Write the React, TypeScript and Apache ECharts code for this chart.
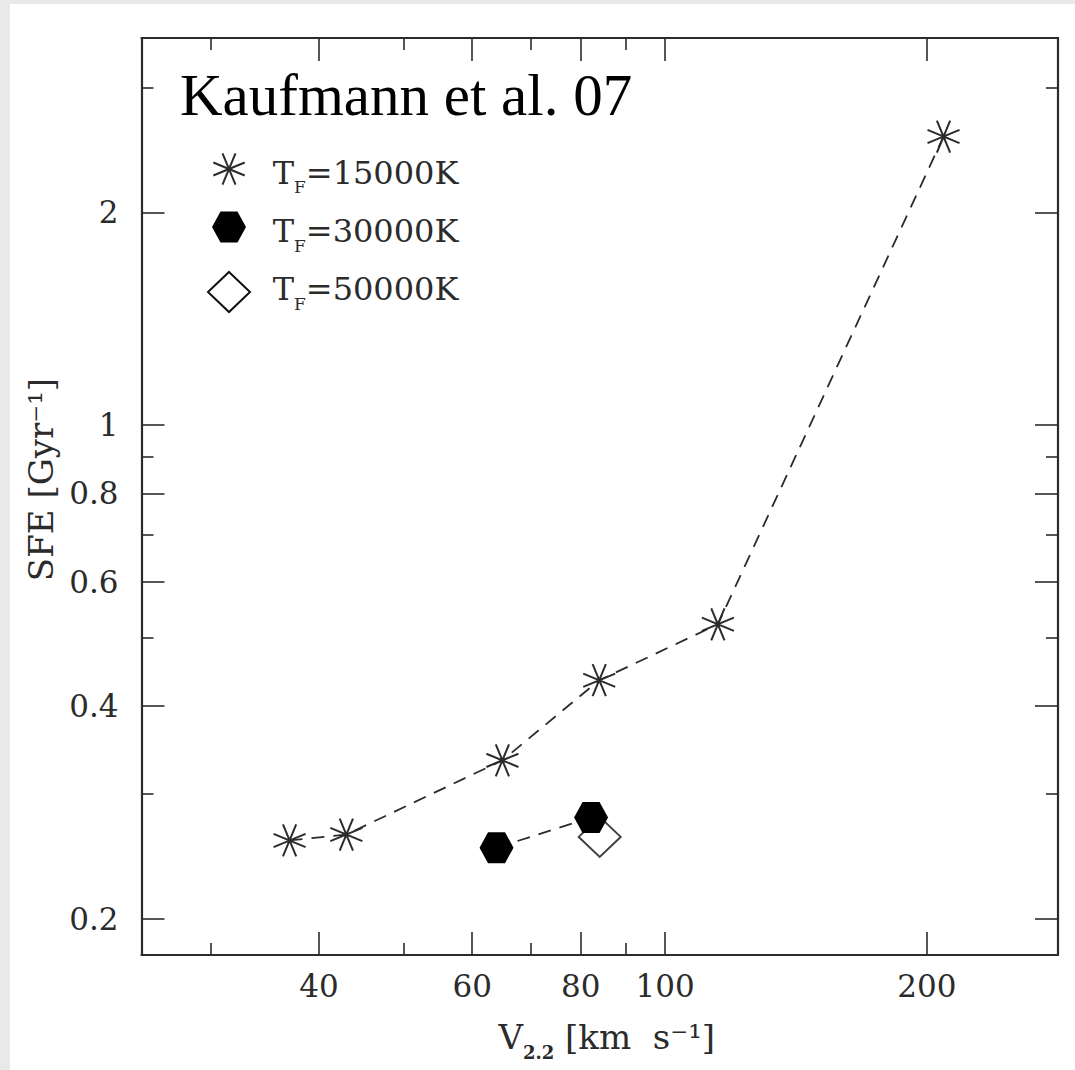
import React, { useEffect, useRef } from 'react';
import * as echarts from 'echarts';

// ---------- data ----------
const xMajorTicks = [40, 60, 80, 100, 200];
const xMajorLabels = ['40', '60', '80', '100', '200'];
const xMinorTicks = [30, 50, 70, 90];
const yMajorTicks = [0.2, 0.4, 0.6, 0.8, 1, 2];
const yMajorLabels = ['0.2', '0.4', '0.6', '0.8', '1', '2'];
const yMinorTicks = [0.3, 0.5, 0.7, 0.9, 3];
const xRange = [25, 283];
const yRange = [0.1776, 3.53];

const v15000 = [37, 43, 65, 84, 115, 209];
const sfe15000 = [0.258, 0.263, 0.335, 0.435, 0.522, 2.56];
const v30000 = [64, 82.2];
const sfe30000 = [0.252, 0.278];
const v50000 = [84.1];
const sfe50000 = [0.261];

const legendTemps = ['15000', '30000', '50000'];
const titleText = 'Kaufmann et al. 07';

// ---------- styling ----------
const L = (v: number) => Math.log10(v);
const ink = '#2b2b2b';
const serif = 'DejaVu Serif';
const FS = 31;

const starPath =
  'path://M0.924,0.383L-0.924,-0.383M0.383,0.924L-0.383,-0.924M-0.383,0.924L0.383,-0.924M-0.924,0.383L0.924,-0.383';
const hexPath = 'path://M-1,0L-0.5,-0.866L0.5,-0.866L1,0L0.5,0.866L-0.5,0.866Z';

const fmt = (ticks: number[], labels: string[]) => (v: number) => {
  const i = ticks.findIndex((t) => Math.abs(L(t) - v) < 1e-6);
  return i >= 0 ? labels[i] : '';
};

const lineStyleAxis = { color: ink, width: 2.2 };
const tickLine = { color: ink, width: 1.6 };

function axisSet(sides: string[], range: number[], major: number[], minor: number[], labelCfg: any, nameCfg: any) {
  const base = { type: 'value', min: L(range[0]), max: L(range[1]), splitLine: { show: false }, scale: true };
  const out: any[] = [];
  sides.forEach((side, si) => {
    out.push({
      ...base,
      position: side,
      axisLine: { show: true, onZero: false, lineStyle: lineStyleAxis },
      axisTick: { show: true, inside: true, length: 23, customValues: major.map(L), lineStyle: tickLine },
      axisLabel: si === 0 ? labelCfg : { show: false },
      ...(si === 0 ? nameCfg : {}),
    });
    out.push({
      ...base,
      position: side,
      axisLine: { show: false, onZero: false },
      axisTick: { show: true, inside: true, length: 12, customValues: minor.map(L), lineStyle: tickLine },
      axisLabel: { show: false },
    });
  });
  return out;
}

const xAxes = axisSet(
  ['bottom', 'top'],
  xRange,
  xMajorTicks,
  xMinorTicks,
  {
    show: true,
    customValues: xMajorTicks.map(L),
    formatter: fmt(xMajorTicks, xMajorLabels),
    margin: 16,
    fontFamily: serif,
    fontSize: FS,
    lineHeight: 30,
    color: ink,
  },
  {
    name: '{t|V}{s|2.2}{t| [km  s⁻¹]}',
    nameLocation: 'middle',
    nameGap: 58,
    nameTextStyle: {
      padding: [0, 0, 0, 14],
      rich: {
        t: { fontFamily: serif, fontSize: 34, lineHeight: 48, color: ink },
        s: { fontFamily: serif, fontSize: 18, lineHeight: 18, fontWeight: 'bold', verticalAlign: 'bottom', color: ink },
      },
    },
  }
);

const yAxes = axisSet(
  ['left', 'right'],
  yRange,
  yMajorTicks,
  yMinorTicks,
  {
    show: true,
    customValues: yMajorTicks.map(L),
    formatter: fmt(yMajorTicks, yMajorLabels),
    margin: 23,
    fontFamily: serif,
    fontSize: FS,
    color: ink,
  },
  {
    name: 'SFE [Gyr⁻¹]',
    nameLocation: 'middle',
    nameGap: 78,
    nameTextStyle: { fontFamily: serif, fontSize: 34, lineHeight: 32, color: ink, padding: [0, 0, 0, 34] },
  }
);

const legendRows = [{ y: 168.5 }, { y: 227 }, { y: 285 }];

const starAngles = [22.5, 67.5, 112.5, 157.5];

const legendGraphics: any[] = [
  {
    type: 'group',
    x: 219,
    y: 165,
    children: starAngles.map((a) => {
      const r = (a * Math.PI) / 180;
      const dx = 17 * Math.cos(r);
      const dy = 17 * Math.sin(r);
      return { type: 'line', shape: { x1: -dx, y1: -dy, x2: dx, y2: dy }, style: { stroke: ink, lineWidth: 2 } };
    }),
  },
  {
    type: 'polygon',
    x: 219,
    y: 223,
    shape: { points: [[-17, 0], [-8.5, -15.5], [8.5, -15.5], [17, 0], [8.5, 15.5], [-8.5, 15.5]] },
    style: { fill: '#000' },
  },
  {
    type: 'polygon',
    x: 219,
    y: 288,
    shape: { points: [[0, -20], [21, 0], [0, 20], [-21, 0]] },
    style: { fill: '#fff', stroke: '#111', lineWidth: 2 },
  },
  ...legendTemps.map((t, i) => ({
    type: 'text',
    x: 262.7,
    y: legendRows[i].y,
    style: {
      text: `{t|T}{s|F}{t|=${t}K}`,
      fontFamily: serif,
      fontSize: 32,
      fill: ink,
      align: 'left',
      verticalAlign: 'middle',
      rich: {
        t: { fontFamily: serif, fontSize: 32, lineHeight: 46, fill: ink },
        s: { fontFamily: serif, fontSize: 17, lineHeight: 17, verticalAlign: 'bottom', fill: ink },
      },
    },
  })),
  {
    type: 'text',
    x: 170,
    y: 91,
    style: {
      text: titleText,
      fontFamily: 'Liberation Serif',
      fontSize: 59,
      fill: '#000',
      align: 'left',
      verticalAlign: 'middle',
    },
  },
];

const option: any = {
  animation: false,
  backgroundColor: '#fff',
  grid: { left: 131.5, top: 34, width: 916.5, height: 917, outerBoundsMode: 'none', containLabel: false },
  xAxis: xAxes,
  yAxis: yAxes,
  graphic: legendGraphics,
  series: [
    {
      name: 'T_F=15000K',
      type: 'line',
      xAxisIndex: 0,
      yAxisIndex: 0,
      data: v15000.map((v, i) => [L(v), L(sfe15000[i])]),
      symbol: starPath,
      symbolSize: 32,
      lineStyle: { color: ink, width: 1.8, type: [13, 9] },
      itemStyle: { color: ink, borderColor: ink, borderWidth: 2 },
      silent: true,
    },
    {
      name: 'T_F=50000K',
      type: 'scatter',
      xAxisIndex: 0,
      yAxisIndex: 0,
      data: v50000.map((v, i) => [L(v), L(sfe50000[i])]),
      symbol: 'diamond',
      symbolSize: [42, 40],
      itemStyle: { color: '#fff', borderColor: '#111', borderWidth: 2 },
      silent: true,
    },
    {
      name: 'T_F=30000K',
      type: 'line',
      xAxisIndex: 0,
      yAxisIndex: 0,
      data: v30000.map((v, i) => [L(v), L(sfe30000[i])]),
      symbol: hexPath,
      symbolSize: [34, 31],
      lineStyle: { color: ink, width: 1.8, type: [13, 9] },
      itemStyle: { color: '#000', borderWidth: 0 },
      silent: true,
    },
  ],
};

export default function App() {
  const ref = useRef<HTMLDivElement>(null);
  useEffect(() => {
    const chart = echarts.init(ref.current!, undefined, { renderer: 'svg' });
    chart.setOption(option);
    return () => chart.dispose();
  }, []);
  return (
    <div
      style={{
        position: 'fixed',
        left: 0,
        top: 0,
        width: 1075,
        height: 1070,
        background: '#e9e9e9',
        overflow: 'hidden',
      }}
    >
      <div
        ref={ref}
        style={{ position: 'absolute', left: 10, top: 4, width: 1065, height: 1066, background: '#fff' }}
      />
    </div>
  );
}
